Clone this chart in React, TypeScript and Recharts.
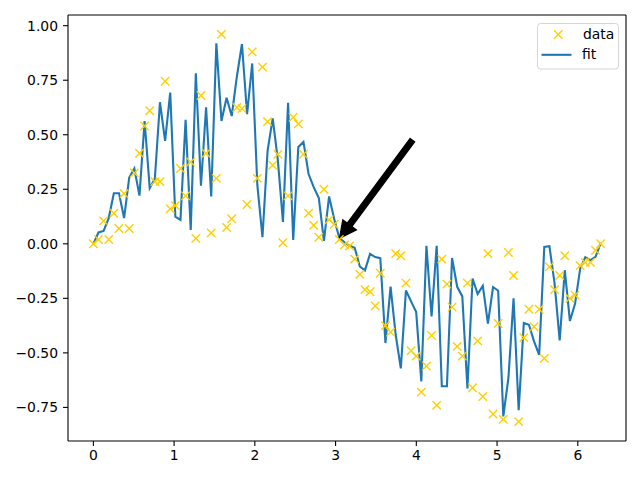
import { ComposedChart, Line, Scatter, XAxis, YAxis, ReferenceLine } from "recharts";

// 100 samples over [0, 2π]
const N = 100;
const X_VALUES = Array.from({ length: N }, (_, i) => (i * 2 * Math.PI) / (N - 1));

const DATA_Y = [
  0.0, 0.02, 0.105, 0.02, 0.14, 0.07, 0.23, 0.07, 0.325, 0.415,
  0.54, 0.61, 0.285, 0.285, 0.745, 0.16, 0.175, 0.345, 0.22, 0.375,
  0.025, 0.68, 0.415, 0.05, 0.3, 0.96, 0.075, 0.115, 0.625, 0.62,
  0.18, 0.88, 0.3, 0.81, 0.56, 0.36, 0.41, 0.005, 0.22, 0.58,
  0.55, 0.41, 0.14, 0.085, 0.03, 0.25, 0.11, 0.09, 0.02, -0.005,
  -0.01, -0.07, -0.14, -0.21, -0.22, -0.285, -0.135, -0.375, -0.405, -0.045,
  -0.055, -0.18, -0.49, -0.515, -0.68, -0.56, -0.42, -0.74, -0.07, -0.185,
  -0.29, -0.47, -0.515, -0.18, -0.66, -0.445, -0.7, -0.045, -0.78, -0.365,
  -0.805, -0.04, -0.145, -0.815, -0.43, -0.3, -0.38, -0.3, -0.525, -0.105,
  -0.21, -0.145, -0.055, -0.25, -0.235, -0.1, -0.085, -0.085, -0.03, 0.0,
];

const FIT_Y = [
  0.0, 0.052, 0.059, 0.118, 0.232, 0.232, 0.118, 0.304, 0.345, 0.221,
  0.563, 0.255, 0.298, 0.649, 0.472, 0.693, 0.125, 0.11, 0.568, 0.064,
  0.782, 0.266, 0.626, 0.217, 0.919, 0.563, 0.67, 0.586, 0.766, 0.916,
  0.594, 0.827, 0.27, 0.03, 0.426, 0.575, 0.385, 0.1, 0.647, 0.018,
  0.444, 0.467, 0.32, 0.26, 0.21, 0.014, 0.217, 0.114, 0.027, 0.007,
  -0.009, -0.018, -0.104, -0.122, -0.046, -0.061, -0.066, -0.455, -0.196, -0.417,
  -0.571, -0.214, -0.264, -0.313, -0.631, -0.009, -0.333, -0.009, -0.653, -0.653,
  -0.065, -0.197, -0.241, -0.663, -0.159, -0.23, -0.192, -0.366, -0.198, -0.215,
  -0.791, -0.615, -0.25, -0.763, -0.363, -0.371, -0.447, -0.509, -0.014, -0.011,
  -0.18, -0.443, -0.121, -0.354, -0.275, -0.114, -0.062, -0.075, -0.06, 0.003,
];

const X_TICKS = [0, 1, 2, 3, 4, 5, 6];
const Y_TICKS = [-0.75, -0.5, -0.25, 0, 0.25, 0.5, 0.75, 1.0];

// annotation: arrow from text point to target point
const ARROW_FROM = { x: 4, y: 0.5 };
const ARROW_TO = { x: 3, y: 0 };

const X_DOMAIN = [-0.314, 6.597];
const Y_DOMAIN = [-0.904, 1.049];

const GOLD = "#ffcf00";
const BLUE = "#1f77b4";
const FONT = "'DejaVu Sans', sans-serif";

const rows = X_VALUES.map((x, i) => ({ x, data: DATA_Y[i], fit: FIT_Y[i] }));

const fmtY = (v: number) => v.toFixed(2).replace("-", "\u2212");

const XMarker = (props: any) => {
  const { cx, cy } = props;
  if (cx == null || cy == null) return null;
  const r = 4.2;
  return (
    <path
      d={`M${cx - r},${cy - r}L${cx + r},${cy + r}M${cx - r},${cy + r}L${cx + r},${cy - r}`}
      stroke={GOLD}
      strokeWidth={1.4}
      fill="none"
    />
  );
};

const ArrowShape = (p: any) => {
  const { x1, y1, x2, y2 } = p;
  const dx = x2 - x1, dy = y2 - y1;
  const L = Math.hypot(dx, dy);
  if (!L) return null;
  const ux = dx / L, uy = dy / L;
  const nx = -uy, ny = ux;
  const s = 0.05 * L;
  const sx = x1 + ux * s, sy = y1 + uy * s;
  const tx = x2 - ux * s, ty = y2 - uy * s;
  const hl = 16.7, hw = 8.35, w = 2.78;
  const bx = tx - ux * hl, by = ty - uy * hl;
  const pts = [
    [sx + nx * w, sy + ny * w],
    [bx + nx * w, by + ny * w],
    [bx + nx * hw, by + ny * hw],
    [tx, ty],
    [bx - nx * hw, by - ny * hw],
    [bx - nx * w, by - ny * w],
    [sx - nx * w, sy - ny * w],
  ].map(([a, b]) => `${a},${b}`).join(" ");
  return <polygon points={pts} fill="#000" stroke="#000" strokeWidth={1.4} strokeLinejoin="miter" />;
};

const tickStyle = { fill: "#000", fontSize: 13.9, fontFamily: FONT };
const spine = { stroke: "#000", strokeWidth: 1.1 };

export default function App() {
  return (
    <div style={{ position: "absolute", left: 0, top: 0, width: 640, height: 480, background: "#fff" }}>
      <ComposedChart width={640} height={480} data={rows} margin={{ top: 15, right: 14, bottom: 0, left: 0 }}>
        <XAxis
          dataKey="x"
          type="number"
          domain={X_DOMAIN}
          allowDataOverflow
          ticks={X_TICKS}
          tickFormatter={(v: number) => String(v)}
          height={39}
          tickSize={5}
          tickMargin={4}
          stroke="#000"
          tick={tickStyle}
          axisLine={spine}
          tickLine={spine}
        />
        <YAxis
          type="number"
          domain={Y_DOMAIN}
          allowDataOverflow
          ticks={Y_TICKS}
          tickFormatter={fmtY}
          width={68}
          tickSize={5}
          tickMargin={5}
          stroke="#000"
          tick={tickStyle}
          axisLine={spine}
          tickLine={spine}
        />
        {/* top and right spines */}
        <ReferenceLine y={Y_DOMAIN[1]} stroke="#000" strokeWidth={1.1} ifOverflow="visible" />
        <ReferenceLine x={X_DOMAIN[1]} stroke="#000" strokeWidth={1.1} ifOverflow="visible" />
        <Scatter dataKey="data" name="data" shape={<XMarker />} isAnimationActive={false} />
        <Line
          dataKey="fit"
          name="fit"
          type="linear"
          stroke={BLUE}
          strokeWidth={2.1}
          dot={false}
          activeDot={false}
          isAnimationActive={false}
        />
        <ReferenceLine segment={[ARROW_FROM, ARROW_TO]} shape={ArrowShape} ifOverflow="visible" />
      </ComposedChart>

      {/* legend, upper right */}
      <svg width={82} height={47} style={{ position: "absolute", left: 536.5, top: 22.5 }}>
        <rect x={0.5} y={0.5} width={81} height={45.5} rx={3} fill="rgba(255,255,255,0.8)" stroke="#d5d5d5" />
        <path d="M17,7.3L25.4,15.7M17,15.7L25.4,7.3" stroke={GOLD} strokeWidth={1.4} />
        <text x={46} y={16} fontSize={13.9} fontFamily={FONT} fill="#000">data</text>
        <line x1={4.5} y1={31.8} x2={34.5} y2={31.8} stroke={BLUE} strokeWidth={2.1} />
        <text x={45} y={36} fontSize={13.9} fontFamily={FONT} fill="#000">fit</text>
      </svg>
    </div>
  );
}
